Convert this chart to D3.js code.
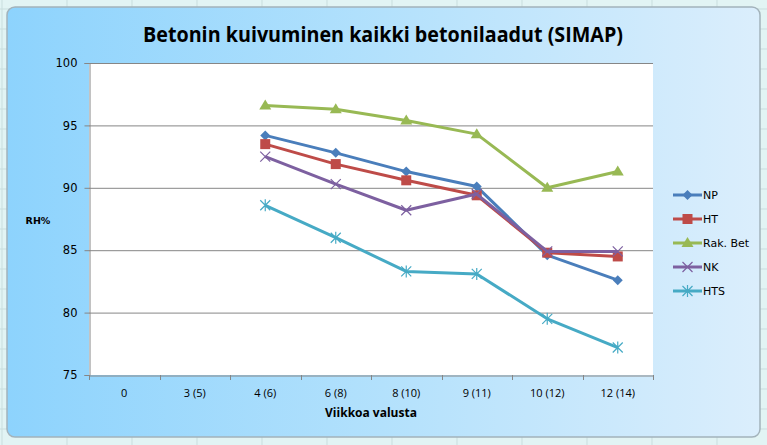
<!DOCTYPE html>
<html><head><meta charset="utf-8">
<script src="https://cdn.jsdelivr.net/npm/d3@7"></script>
<style>html,body{margin:0;padding:0;background:#e2f4f4;}svg{display:block}</style>
</head><body>
<svg id="c" width="767" height="445"></svg>
<script>
const categories = ["0","3 (5)","4 (6)","6 (8)","8 (10)","9 (11)","10 (12)","12 (14)"];
const yTicks = [75,80,85,90,95,100];
const seriesNames = ["NP","HT","Rak. Bet","NK","HTS"];
const seriesColors = ["#4A7EBB","#BE4B48","#98B954","#7D60A0","#46AAC5"];
const seriesMarkers = ["diamond","square","triangle","x","star"];
const npValues     = [null,null,94.2,92.8,91.3,90.1,84.6,82.6];
const htValues     = [null,null,93.5,91.9,90.6,89.4,84.8,84.5];
const rakBetValues = [null,null,96.6,96.3,95.4,94.3,90.0,91.3];
const nkValues     = [null,null,92.5,90.3,88.2,89.5,84.9,84.9];
const htsValues    = [null,null,88.6,86.0,83.3,83.1,79.5,77.2];
const allValues = [npValues,htValues,rakBetValues,nkValues,htsValues];

const svg = d3.select("#c");
// Excel sheet background grid
const bg = svg.append("g");
bg.append("rect").attr("width",767).attr("height",445).attr("fill","#e2f4f4");
for(let x=2;x<767;x+=65) bg.append("line").attr("x1",x).attr("x2",x).attr("y1",0).attr("y2",445).attr("stroke","#c9dede");
for(let y=9;y<445;y+=20) bg.append("line").attr("x1",0).attr("x2",767).attr("y1",y).attr("y2",y).attr("stroke","#c9dede");

const defs = svg.append("defs");
const grad = defs.append("linearGradient").attr("id","bgGrad").attr("x1","0").attr("x2","1").attr("y1","0").attr("y2","0");
grad.append("stop").attr("offset","0").attr("stop-color","#8dd3fd");
grad.append("stop").attr("offset","0.5").attr("stop-color","#b3e1fc");
grad.append("stop").attr("offset","1").attr("stop-color","#dbeefc");

svg.append("rect").attr("x",7).attr("y",7).attr("width",753).attr("height",430).attr("rx",8)
  .attr("fill","url(#bgGrad)").attr("stroke","#a3b3bb").attr("stroke-width",1.5);

const m = {left:89, top:63, right:653, bottom:375};
const x = d3.scaleBand().domain(categories).range([m.left,m.right]);
const y = d3.scaleLinear().domain([75,100]).range([m.bottom,m.top]);

svg.append("rect").attr("x",m.left).attr("y",m.top).attr("width",m.right-m.left).attr("height",m.bottom-m.top).attr("fill","#ffffff");

// gridlines
svg.append("g").selectAll("line").data(yTicks.filter(d=>d>75)).join("line")
  .attr("x1",m.left).attr("x2",m.right).attr("y1",d=>y(d)+0.5).attr("y2",d=>y(d)+0.5)
  .attr("stroke","#868686").attr("stroke-width",1);

// y axis
const yAxis = svg.append("g").attr("transform",`translate(${m.left+0.5},0)`)
  .call(d3.axisLeft(y).tickValues(yTicks).tickSize(5).tickPadding(7));
yAxis.select(".domain").attr("stroke","#868686");
yAxis.selectAll(".tick line").attr("stroke","#868686");
yAxis.selectAll("text").attr("font-family","DejaVu Sans, Verdana, sans-serif").attr("font-size","11.5px").attr("fill","#000");

// x axis
const xAxis = svg.append("g").attr("transform",`translate(0,${m.bottom+0.5})`)
  .call(d3.axisBottom(x).tickSize(0).tickPadding(14));
xAxis.select(".domain").attr("stroke","#868686");
xAxis.selectAll("text").attr("font-family","Open Sans, Liberation Sans, sans-serif").attr("font-size","11px").attr("fill","#000");
const bounds = categories.map(c=>x(c)).concat([x(categories[categories.length-1])+x.bandwidth()]);
svg.append("g").selectAll("line").data(bounds).join("line")
  .attr("x1",d=>Math.round(d)+0.5).attr("x2",d=>Math.round(d)+0.5).attr("y1",m.bottom).attr("y2",m.bottom+5)
  .attr("stroke","#868686");

// title
svg.append("text").attr("x",383).attr("y",42).attr("text-anchor","middle")
  .attr("font-family","Open Sans, Liberation Sans, sans-serif").attr("font-weight","bold").attr("font-size","21px")
  .attr("textLength",480).attr("lengthAdjust","spacingAndGlyphs")
  .text("Betonin kuivuminen kaikki betonilaadut (SIMAP)");
svg.append("text").attr("x",38).attr("y",224).attr("text-anchor","middle")
  .attr("font-family","DejaVu Sans, sans-serif").attr("font-weight","bold").attr("font-size","9.5px").text("RH%");
svg.append("text").attr("x",371).attr("y",417).attr("text-anchor","middle")
  .attr("font-family","Open Sans, Liberation Sans, sans-serif").attr("font-weight","bold").attr("font-size","12px").text("Viikkoa valusta");

function marker(g, type, color, cx, cy){
  if(type==="diamond"){
    g.append("path").attr("d",`M${cx},${cy-5}L${cx+5},${cy}L${cx},${cy+5}L${cx-5},${cy}Z`).attr("fill",color);
  } else if(type==="square"){
    g.append("rect").attr("x",cx-5).attr("y",cy-5).attr("width",10).attr("height",10).attr("fill",color);
  } else if(type==="triangle"){
    g.append("path").attr("d",`M${cx},${cy-6}L${cx+6},${cy+4}L${cx-6},${cy+4}Z`).attr("fill",color);
  } else if(type==="x"){
    g.append("path").attr("d",`M${cx-5},${cy-5}L${cx+5},${cy+5}M${cx-5},${cy+5}L${cx+5},${cy-5}`).attr("stroke",color).attr("stroke-width",1.2);
  } else if(type==="star"){
    g.append("path").attr("d",`M${cx-5},${cy-5}L${cx+5},${cy+5}M${cx-5},${cy+5}L${cx+5},${cy-5}M${cx},${cy-6}L${cx},${cy+6}`).attr("stroke",color).attr("stroke-width",1.2);
  }
}

const line = d3.line().defined(d=>d.v!=null).x(d=>x(d.c)+x.bandwidth()/2).y(d=>y(d.v));
allValues.forEach((vals,i)=>{
  const pts = vals.map((v,j)=>({c:categories[j],v}));
  const g = svg.append("g");
  g.append("path").attr("d",line(pts)).attr("fill","none").attr("stroke",seriesColors[i]).attr("stroke-width",3).attr("stroke-linejoin","round");
  pts.filter(p=>p.v!=null).forEach(p=>marker(g,seriesMarkers[i],seriesColors[i],x(p.c)+x.bandwidth()/2,y(p.v)));
});

// legend
const legY = [195,219,243,267,291];
seriesNames.forEach((n,i)=>{
  const g = svg.append("g");
  g.append("line").attr("x1",673).attr("x2",702).attr("y1",legY[i]).attr("y2",legY[i]).attr("stroke",seriesColors[i]).attr("stroke-width",3);
  marker(g,seriesMarkers[i],seriesColors[i],687.5,legY[i]);
  g.append("text").attr("x",703).attr("y",legY[i]+4).attr("font-family","DejaVu Sans, Verdana, sans-serif").attr("font-size","11px").attr("fill","#000").text(n);
});
</script>
</body></html>
